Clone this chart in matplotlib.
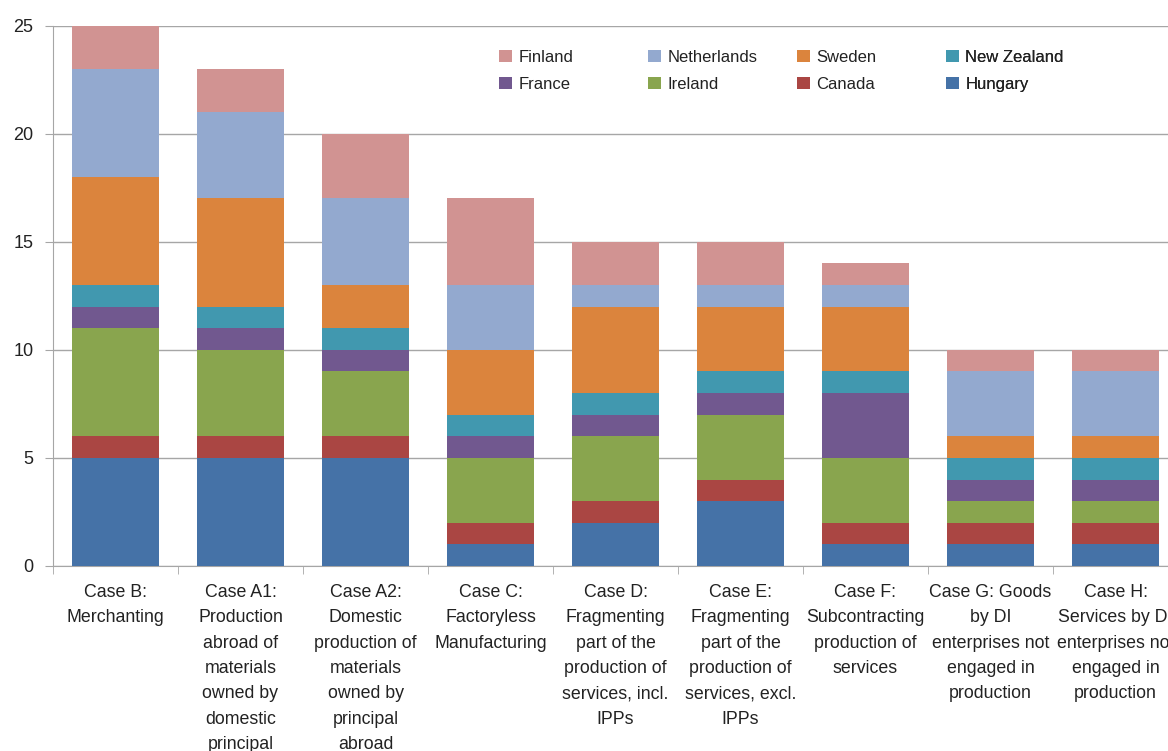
import numpy as np
import matplotlib
matplotlib.use("Agg")
import matplotlib.pyplot as plt
from matplotlib.patches import Patch

plt.rcParams['font.family'] = ['Liberation Sans', 'DejaVu Sans']

categories = [
    "Case B:\nMerchanting",
    "Case A1:\nProduction\nabroad of\nmaterials\nowned by\ndomestic\nprincipal",
    "Case A2:\nDomestic\nproduction of\nmaterials\nowned by\nprincipal\nabroad",
    "Case C:\nFactoryless\nManufacturing",
    "Case D:\nFragmenting\npart of the\nproduction of\nservices, incl.\nIPPs",
    "Case E:\nFragmenting\npart of the\nproduction of\nservices, excl.\nIPPs",
    "Case F:\nSubcontracting\nproduction of\nservices",
    "Case G: Goods\nby DI\nenterprises not\nengaged in\nproduction",
    "Case H:\nServices by DI\nenterprises not\nengaged in\nproduction",
]

# stacked bottom -> top
hungary     = [5, 5, 5, 1, 2, 3, 1, 1, 1]
canada      = [1, 1, 1, 1, 1, 1, 1, 1, 1]
ireland     = [5, 4, 3, 3, 3, 3, 3, 1, 1]
france      = [1, 1, 1, 1, 1, 1, 3, 1, 1]
new_zealand = [1, 1, 1, 1, 1, 1, 1, 1, 1]
sweden      = [5, 5, 2, 3, 4, 3, 3, 1, 1]
netherlands = [5, 4, 4, 3, 1, 1, 1, 3, 3]
finland     = [2, 2, 3, 4, 2, 2, 1, 1, 1]

series = [
    ("Hungary", hungary, "#4572A7"),
    ("Canada", canada, "#AA4643"),
    ("Ireland", ireland, "#89A54E"),
    ("France", france, "#71588F"),
    ("New Zealand", new_zealand, "#4198AF"),
    ("Sweden", sweden, "#DB843D"),
    ("Netherlands", netherlands, "#93A9CF"),
    ("Finland", finland, "#D19392"),
]
colors = {name: c for name, _, c in series}

W, H = 1168, 751
fig = plt.figure(figsize=(W / 100, H / 100), dpi=100)
ax = fig.add_axes([53 / W, 1 - 566 / H, (1178 - 53) / W, (566 - 25.5) / H])

x = np.arange(len(categories))
bottom = np.zeros(len(categories))
for name, vals, col in series:
    ax.bar(x, vals, 0.7, bottom=bottom, color=col, zorder=3)
    bottom += np.array(vals)

ax.set_xlim(-0.5, len(categories) - 0.5)
ax.set_ylim(0, 25)
ax.set_yticks([0, 5, 10, 15, 20, 25])
ax.yaxis.grid(True, color="#A6A6A6", linewidth=1, zorder=0)
ax.set_axisbelow(True)

ax.set_xticks(x)
ax.set_xticklabels(categories, fontsize=12.8, color="#222222", linespacing=1.64)
ax.set_xticks(np.arange(-0.5, len(categories)), minor=True)
ax.tick_params(axis="x", which="major", length=0, pad=13)
ax.tick_params(axis="x", which="minor", length=6, color="#A6A6A6", direction="out")
ax.tick_params(axis="y", length=6, color="#A6A6A6", labelsize=13, labelcolor="#222222", pad=8)

for s in ["top", "right"]:
    ax.spines[s].set_visible(False)
for s in ["left", "bottom"]:
    ax.spines[s].set_color("#A6A6A6")

# legend: 4 columns, 2 rows, equal column spacing
legend_cols = [("Finland", "France"), ("Netherlands", "Ireland"),
               ("Sweden", "Canada"), ("New Zealand", "Hungary")]
col_x = [499, 648, 797, 946]
for cx, names in zip(col_x, legend_cols):
    handles = [Patch(facecolor=colors[n], edgecolor="none", label=n) for n in names]
    leg = ax.legend(handles=handles, loc="upper left",
                    bbox_to_anchor=(cx / W, 1 - 50 / H), bbox_transform=fig.transFigure,
                    frameon=False, fontsize=12, handlelength=0.75, handleheight=0.75,
                    handletextpad=0.4, labelspacing=0.7, borderpad=0, borderaxespad=0,
                    labelcolor="#222222")
    ax.add_artist(leg)

fig.savefig("out.png", dpi=100)
